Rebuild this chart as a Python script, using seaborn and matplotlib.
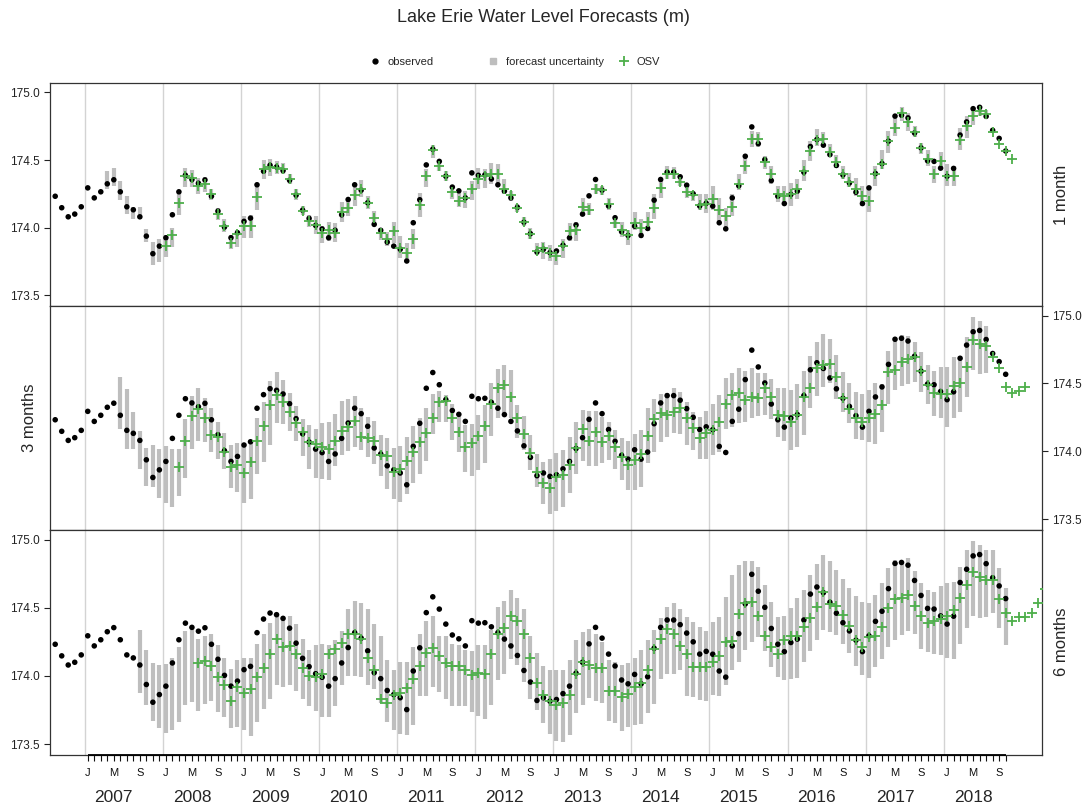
import numpy as np
import matplotlib
matplotlib.use("Agg")
import matplotlib.pyplot as plt
import seaborn as sns
from matplotlib.lines import Line2D

# month index: 0 = Jan 2007
obs_start = -5  # Aug 2006
observed = [
    174.232, 174.147, 174.080, 174.100, 174.154,
    174.294, 174.220, 174.265, 174.324, 174.354, 174.265, 174.154, 174.132, 174.080, 173.937, 173.807, 173.863,
    173.925, 174.095, 174.265, 174.387, 174.356, 174.328, 174.353, 174.232, 174.122, 174.004, 173.925, 173.962,
    174.046, 174.070, 174.317, 174.417, 174.461, 174.449, 174.422, 174.350, 174.240, 174.129, 174.068, 174.016,
    173.990, 173.925, 173.980, 174.095, 174.208, 174.317, 174.277, 174.184, 174.024, 173.980, 173.893, 173.863,
    173.840, 173.753, 174.036, 174.206, 174.464, 174.580, 174.490, 174.380, 174.300, 174.272, 174.220, 174.405,
    174.387, 174.390, 174.360, 174.317, 174.270, 174.220, 174.150, 174.040, 173.955, 173.820, 173.840, 173.815,
    173.827, 173.870, 173.925, 174.020, 174.100, 174.235, 174.356, 174.277, 174.160, 174.073, 173.970, 173.942,
    174.011, 173.942, 173.994, 174.203, 174.356, 174.410, 174.410, 174.376, 174.314, 174.250, 174.160, 174.180,
    174.159, 174.036, 173.991, 174.220, 174.310, 174.528, 174.745, 174.621, 174.503, 174.348, 174.232, 174.178,
    174.245, 174.270, 174.410, 174.600, 174.652, 174.610, 174.540, 174.460, 174.390, 174.330, 174.262, 174.178,
    174.294, 174.400, 174.474, 174.640, 174.825, 174.832, 174.812, 174.700, 174.590, 174.495, 174.490, 174.440,
    174.380, 174.438, 174.685, 174.782, 174.880, 174.890, 174.823, 174.720, 174.660, 174.567,
]

# 1 month lead
osv_1m_start = 12
osv_1m = [
    173.863, 173.942, 174.184, 174.380, 174.365, 174.306, 174.324, 174.250, 174.100, 174.011, 173.889, 173.950,
    174.011, 174.011, 174.225, 174.437, 174.445, 174.440, 174.430, 174.363, 174.245, 174.122, 174.048, 174.016,
    173.962, 173.980, 173.957, 174.117, 174.147, 174.238, 174.289, 174.184, 174.068, 173.957, 173.918, 173.974,
    173.847, 173.810, 173.913, 174.164, 174.380, 174.577, 174.459, 174.380, 174.262, 174.200, 174.220, 174.289,
    174.363, 174.380, 174.400, 174.400, 174.287, 174.238, 174.147, 174.040, 173.955, 173.830, 173.847, 173.815,
    173.790, 173.863, 173.974, 173.980, 174.154, 174.134, 174.282, 174.277, 174.176, 174.031, 173.980, 173.942,
    174.031, 173.999, 174.040, 174.147, 174.292, 174.400, 174.400, 174.341, 174.265, 174.238, 174.169, 174.176,
    174.213, 174.134, 174.085, 174.154, 174.319, 174.454, 174.659, 174.659, 174.486, 174.393, 174.245, 174.237,
    174.245, 174.282, 174.417, 174.565, 174.651, 174.656, 174.557, 174.483, 174.400, 174.336, 174.282, 174.232,
    174.196, 174.400, 174.474, 174.639, 174.737, 174.848, 174.779, 174.705, 174.590, 174.510, 174.393, 174.491,
    174.380, 174.380, 174.651, 174.754, 174.828, 174.865, 174.843, 174.705, 174.621, 174.565, 174.511,
]
band_1m_start = 3
band_1m_lo = [
    174.282, 174.307, 174.208, 174.098, 174.061, 174.061, 173.893, 173.723, 173.746,
    173.782, 173.857, 174.095, 174.302, 174.302, 174.245, 174.262, 174.208, 174.053, 173.967, 173.839, 173.859,
    173.925, 173.925, 174.134, 174.360, 174.380, 174.400, 174.393, 174.326, 174.208, 174.090, 174.006, 173.950,
    173.883, 173.900, 173.893, 174.041, 174.085, 174.159, 174.228, 174.139, 174.023, 173.908, 173.864, 173.889,
    173.778, 173.741, 173.840, 174.080, 174.301, 174.516, 174.417, 174.343, 174.213, 174.154, 174.147, 174.203,
    174.282, 174.294, 174.319, 174.326, 174.252, 174.196, 174.114, 174.011, 173.918, 173.795, 173.765, 173.753,
    173.721, 173.778, 173.901, 173.901, 174.085, 174.090, 174.245, 174.238, 174.130, 173.999, 173.932, 173.868,
    173.986, 173.925, 173.974, 174.065, 174.221, 174.360, 174.360, 174.306, 174.221, 174.196, 174.130, 174.105,
    174.134, 174.048, 173.999, 174.085, 174.275, 174.393, 174.597, 174.597, 174.430, 174.326, 174.188, 174.164,
    174.159, 174.213, 174.343, 174.491, 174.607, 174.602, 174.528, 174.442, 174.356, 174.302, 174.233, 174.159,
    174.114, 174.311, 174.430, 174.553, 174.680, 174.786, 174.712, 174.671, 174.548, 174.459, 174.331, 174.430,
    174.307, 174.307, 174.577, 174.663, 174.762, 174.823, 174.818,
]
band_1m_hi = [
    174.422, 174.442, 174.344, 174.233, 174.152, 174.152, 173.992, 173.893, 173.913,
    173.942, 173.999, 174.262, 174.442, 174.425, 174.368, 174.376, 174.287, 174.142, 174.061, 173.942, 173.982,
    174.085, 174.090, 174.307, 174.503, 174.510, 174.491, 174.479, 174.393, 174.282, 174.159, 174.090, 174.085,
    174.011, 174.041, 174.036, 174.188, 174.213, 174.311, 174.351, 174.233, 174.122, 173.999, 173.967, 174.041,
    173.937, 173.883, 173.992, 174.253, 174.435, 174.614, 174.503, 174.417, 174.311, 174.257, 174.270, 174.343,
    174.442, 174.435, 174.479, 174.467, 174.361, 174.270, 174.178, 174.080, 173.999, 173.889, 173.893, 173.869,
    173.839, 173.918, 174.036, 174.041, 174.221, 174.184, 174.319, 174.311, 174.221, 174.085, 174.041, 173.986,
    174.115, 174.061, 174.115, 174.245, 174.356, 174.459, 174.449, 174.380, 174.311, 174.270, 174.245, 174.245,
    174.307, 174.220, 174.147, 174.245, 174.400, 174.545, 174.712, 174.705, 174.533, 174.459, 174.311, 174.307,
    174.331, 174.360, 174.503, 174.638, 174.730, 174.705, 174.621, 174.540, 174.454, 174.405, 174.368, 174.311,
    174.311, 174.459, 174.572, 174.712, 174.835, 174.892, 174.848, 174.749, 174.626, 174.572, 174.459, 174.557,
    174.474, 174.459, 174.737, 174.823, 174.885, 174.897, 174.872,
]

# 3 month lead
osv_3m_start = 14
osv_3m = [
    173.886, 174.077, 174.260, 174.314, 174.248, 174.120, 174.105, 173.994, 173.886, 173.898,
    173.842, 173.923, 174.077, 174.188, 174.340, 174.415, 174.365, 174.287, 174.206, 174.140, 174.070, 174.056,
    174.034, 174.017, 174.075, 174.149, 174.178, 174.225, 174.105, 174.100, 174.075, 173.972, 173.967, 173.849,
    173.868, 173.927, 173.991, 174.070, 174.137, 174.247, 174.360, 174.373, 174.247, 174.144, 174.028, 174.058,
    174.115, 174.188, 174.348, 174.464, 174.488, 174.397, 174.247, 174.127, 173.989, 173.849, 173.768, 173.731,
    173.812, 173.824, 173.898, 174.021, 174.164, 174.077, 174.144, 174.070, 174.115, 174.028, 173.960, 173.902,
    173.935, 173.977, 174.115, 174.238, 174.279, 174.267, 174.291, 174.321, 174.247, 174.169, 174.095, 174.137,
    174.157, 174.218, 174.346, 174.415, 174.427, 174.378, 174.402, 174.390, 174.469, 174.397, 174.267, 174.260,
    174.218, 174.267, 174.402, 174.469, 174.611, 174.636, 174.643, 174.550, 174.395, 174.309, 174.242, 174.218,
    174.242, 174.272, 174.341, 174.587, 174.599, 174.656, 174.678, 174.698, 174.592, 174.488, 174.427, 174.419,
    174.419, 174.483, 174.501, 174.624, 174.821, 174.789, 174.779, 174.698, 174.616, 174.476, 174.427, 174.444,
    174.476,
]
band_3m_start = 5
band_3m_lo = [
    174.164, 174.017, 174.017, 173.873, 173.746, 173.739, 173.657,
    173.620, 173.590, 173.668, 173.800, 174.017, 174.077, 174.070, 173.996, 173.942, 173.868, 173.726, 173.700,
    173.620, 173.650, 173.830, 173.923, 174.046, 174.210, 174.203, 174.149, 174.075, 173.967, 173.868, 173.800,
    173.795, 173.790, 173.891, 173.972, 174.004, 174.028, 174.009, 173.960, 173.908, 173.820, 173.721, 173.652,
    173.623, 173.682, 173.763, 173.836, 173.930, 174.130, 174.213, 174.218, 174.082, 173.996, 173.849, 173.820,
    173.861, 173.910, 174.113, 174.247, 174.267, 174.243, 174.095, 174.009, 173.861, 173.739, 173.615, 173.537,
    173.559, 173.590, 173.689, 173.829, 173.930, 173.891, 173.893, 173.910, 173.935, 173.873, 173.787, 173.714,
    173.714, 173.739, 173.910, 173.991, 174.070, 174.107, 174.132, 174.124, 174.046, 174.009, 173.942, 173.942,
    173.972, 173.991, 174.164, 174.181, 174.206, 174.218, 174.243, 174.262, 174.267, 174.235, 174.107, 174.075,
    174.009, 174.034, 174.120, 174.321, 174.410, 174.476, 174.501, 174.383, 174.292, 174.206, 174.090, 174.082,
    174.070, 174.051, 174.140, 174.348, 174.452, 174.484, 174.496, 174.513, 174.434, 174.348, 174.262, 174.243,
    174.181, 174.243, 174.292, 174.402, 174.599, 174.567, 174.574,
]
band_3m_hi = [
    174.550, 174.457, 174.288, 174.150, 174.026, 174.046, 174.017,
    174.040, 174.017, 174.017, 174.235, 174.407, 174.464, 174.390, 174.316, 174.218, 174.137, 174.046, 174.058,
    174.058, 174.070, 174.243, 174.366, 174.521, 174.582, 174.525, 174.427, 174.336, 174.237, 174.193, 174.164,
    174.206, 174.213, 174.275, 174.373, 174.383, 174.410, 174.316, 174.255, 174.223, 174.120, 174.100, 174.021,
    174.038, 174.107, 174.188, 174.247, 174.320, 174.419, 174.444, 174.414, 174.348, 174.280, 174.193, 174.200,
    174.267, 174.340, 174.500, 174.604, 174.636, 174.600, 174.340, 174.260, 174.120, 173.977, 173.923, 173.940,
    173.984, 174.009, 174.107, 174.213, 174.304, 174.297, 174.297, 174.255, 174.213, 174.157, 174.095, 174.075,
    174.125, 174.157, 174.316, 174.385, 174.419, 174.432, 174.464, 174.434, 174.365, 174.292, 174.255, 174.297,
    174.346, 174.414, 174.537, 174.575, 174.616, 174.592, 174.616, 174.575, 174.575, 174.533, 174.469, 174.464,
    174.452, 174.496, 174.592, 174.705, 174.803, 174.862, 174.828, 174.710, 174.587, 174.500, 174.434, 174.419,
    174.452, 174.500, 174.493, 174.739, 174.833, 174.857, 174.852, 174.803, 174.734, 174.636, 174.592, 174.624,
    174.624, 174.698, 174.705, 174.838, 174.986, 174.956, 174.926,
]

# 6 month lead
osv_6m_start = 17
osv_6m = [
    174.095, 174.107, 174.073, 173.991, 173.935, 173.819, 173.918,
    173.873, 173.905, 173.991, 174.058, 174.159, 174.269, 174.213, 174.220, 174.159, 174.058, 173.999, 173.991,
    174.011, 174.159, 174.200, 174.242, 174.311, 174.306, 174.269, 174.132, 174.041, 173.831, 173.802, 173.861,
    173.873, 173.910, 173.979, 174.070, 174.171, 174.208, 174.146, 174.095, 174.073, 174.073, 174.046, 174.004,
    174.021, 174.016, 174.159, 174.306, 174.348, 174.442, 174.405, 174.304, 174.132, 173.950, 173.858, 173.819,
    173.785, 173.802, 173.863, 174.016, 174.102, 174.077, 174.058, 174.058, 173.893, 173.893, 173.844, 173.868,
    173.918, 173.947, 174.041, 174.200, 174.274, 174.341, 174.306, 174.218, 174.159, 174.065, 174.065, 174.065,
    174.102, 174.144, 174.250, 174.257, 174.454, 174.533, 174.545, 174.439, 174.291, 174.213, 174.164, 174.262,
    174.291, 174.291, 174.360, 174.422, 174.503, 174.614, 174.528, 174.513, 174.446, 174.365, 174.267, 174.213,
    174.287, 174.291, 174.360, 174.496, 174.562, 174.569, 174.594, 174.513, 174.439, 174.385, 174.405, 174.414,
    174.439, 174.483, 174.574, 174.668, 174.759, 174.724, 174.700, 174.700, 174.562, 174.464, 174.405, 174.434,
    174.434, 174.464, 174.538, 174.636,
]
band_6m_start = 8
band_6m_lo = [
    173.873, 173.787, 173.672, 173.617,
    173.585, 173.603, 173.659, 173.787, 173.812, 173.745, 173.795, 173.814, 173.733, 173.696, 173.617, 173.627,
    173.605, 173.556, 173.664, 173.758, 173.831, 173.930, 173.918, 173.937, 173.893, 173.831, 173.782, 173.745,
    173.696, 173.701, 173.777, 173.930, 173.996, 173.996, 173.991, 173.930, 173.905, 173.802, 173.664, 173.603,
    173.573, 173.568, 173.642, 173.856, 173.856, 173.918, 173.881, 173.831, 173.782, 173.777, 173.777, 173.733,
    173.704, 173.684, 173.787, 173.967, 174.016, 174.127, 174.077, 173.959, 173.831, 173.753, 173.654, 173.573,
    173.524, 173.517, 173.566, 173.726, 173.790, 173.839, 173.814, 173.800, 173.672, 173.652, 173.593, 173.627,
    173.642, 173.647, 173.726, 173.795, 173.979, 174.016, 174.016, 174.041, 173.856, 173.844, 173.824, 173.819,
    173.861, 173.856, 173.930, 174.045, 174.102, 174.188, 174.250, 174.282, 174.183, 174.065, 173.991, 173.967,
    173.979, 173.986, 174.102, 174.183, 174.262, 174.336, 174.323, 174.299, 174.237, 174.168, 174.070, 174.004,
    173.986, 174.065, 174.127, 174.213, 174.267, 174.299, 174.331, 174.311, 174.200, 174.174, 174.159, 174.151,
    174.134, 174.127, 174.237, 174.355, 174.439, 174.422, 174.429, 174.459, 174.348, 174.225,
]
band_6m_hi = [
    174.336, 174.193, 174.095, 174.077,
    174.085, 174.132, 174.213, 174.331, 174.360, 174.274, 174.291, 174.304, 174.225, 174.132, 174.053, 174.114,
    174.132, 174.134, 174.233, 174.311, 174.390, 174.439, 174.434, 174.442, 174.380, 174.274, 174.193, 174.225,
    174.233, 174.225, 174.262, 174.331, 174.491, 174.550, 174.538, 174.488, 174.380, 174.291, 174.114, 174.041,
    174.102, 174.102, 174.213, 174.311, 174.405, 174.439, 174.291, 174.291, 174.237, 174.225, 174.193, 174.183,
    174.225, 174.225, 174.336, 174.503, 174.552, 174.631, 174.569, 174.491, 174.291, 174.171, 174.070, 174.041,
    174.041, 174.041, 174.114, 174.262, 174.323, 174.343, 174.306, 174.250, 174.114, 174.102, 174.077, 174.095,
    174.134, 174.188, 174.262, 174.336, 174.422, 174.508, 174.538, 174.488, 174.429, 174.397, 174.360, 174.331,
    174.397, 174.434, 174.582, 174.742, 174.815, 174.840, 174.840, 174.796, 174.668, 174.545, 174.429, 174.439,
    174.496, 174.569, 174.631, 174.742, 174.823, 174.889, 174.840, 174.774, 174.710, 174.643, 174.587, 174.545,
    174.533, 174.594, 174.680, 174.791, 174.852, 174.840, 174.865, 174.766, 174.680, 174.631, 174.619, 174.661,
    174.680, 174.692, 174.798, 174.921, 174.988, 174.963, 174.921, 174.921, 174.791, 174.643,
]

years = list(range(2007, 2019))
month_letters = {0: "J", 4: "M", 8: "S"}
last_tick = 141  # Oct 2018

GREEN = "#4daf4a"
GREY_BAR = "#bebebe"
GRID = "#d3d3d3"

sns.set_style("ticks")
plt.rcParams["font.family"] = ["Liberation Sans", "DejaVu Sans"]

fig = plt.figure(figsize=(10.87, 8.09), dpi=100)
W, H = 1087.0, 809.0
left, right = 50 / W, 1042 / W
panel_px = [(83, 306), (306, 530), (530, 755)]
axes = []
for top, bot in panel_px:
    axes.append(fig.add_axes([left, 1 - bot / H, right - left, (bot - top) / H]))

panels = [
    (osv_1m_start, osv_1m, band_1m_start, band_1m_lo, band_1m_hi),
    (osv_3m_start, osv_3m, band_3m_start, band_3m_lo, band_3m_hi),
    (osv_6m_start, osv_6m, band_6m_start, band_6m_lo, band_6m_hi),
]

obs_x = np.arange(obs_start, obs_start + len(observed))

for i, (ax, (o_start, osv, b_start, b_lo, b_hi)) in enumerate(zip(axes, panels)):
    for k in range(len(years)):
        ax.axvline(12 * k - 0.5, color=GRID, lw=1.0, zorder=0)
    bx = np.arange(b_start, b_start + len(b_lo))
    ax.vlines(bx, b_lo, b_hi, color=GREY_BAR, lw=3.0, zorder=1, capstyle="butt")
    sns.scatterplot(x=obs_x, y=observed, color="black", s=16, edgecolor="none",
                    ax=ax, zorder=2, legend=False)
    ox = np.arange(o_start, o_start + len(osv))
    sns.scatterplot(x=ox, y=osv, marker="+", color=GREEN, s=45, linewidth=1.3,
                    ax=ax, zorder=3, legend=False)

    ax.set_xlim(-5.8, 146.58)
    ax.set_ylim(173.42, 175.07)
    ax.set_xlabel("")
    ax.set_ylabel("")
    yt = [173.5, 174.0, 174.5, 175.0]
    ax.set_yticks(yt)
    ax.set_yticklabels([f"{v:.1f}" for v in yt])
    for sp in ax.spines.values():
        sp.set_visible(True)
        sp.set_color("#333333")
        sp.set_linewidth(0.9)
    if i == 1:
        ax.tick_params(axis="y", left=False, right=True, labelleft=False, labelright=True)
    else:
        ax.tick_params(axis="y", left=True, right=False, labelleft=True, labelright=False)
    ax.tick_params(axis="y", direction="out", length=4.5, width=0.8, labelsize=8.5, pad=3,
                   colors="#222222")

    if i < 2:
        ax.tick_params(axis="x", bottom=False, top=False, labelbottom=False)
    else:
        ticks = list(range(0, last_tick + 1))
        ax.set_xticks(ticks)
        ax.set_xticklabels([month_letters.get(t % 12, "") for t in ticks])
        ax.tick_params(axis="x", bottom=True, top=False, direction="out", length=4, width=0.8,
                       labelsize=8, pad=5, colors="#111111")
        ax.plot([0, last_tick], [173.42, 173.42], color="black", lw=1.3,
                clip_on=False, zorder=5, solid_capstyle="butt")
        for k, yr in enumerate(years):
            ax.annotate(str(yr), xy=(12 * k + 4, 0), xycoords=("data", "axes fraction"),
                        xytext=(0, -30.5), textcoords="offset points",
                        ha="center", va="center", fontsize=12.5)

fig.text(1062 / W, 1 - 195 / H, "1 month", rotation=90, ha="center", va="center", fontsize=12)
fig.text(30 / W, 1 - 418 / H, "3 months", rotation=90, ha="center", va="center", fontsize=12)
fig.text(1062 / W, 1 - 642 / H, "6 months", rotation=90, ha="center", va="center", fontsize=12)

fig.text(0.5, 1 - 18 / H, "Lake Erie Water Level Forecasts (m)", ha="center", va="center",
         fontsize=13)

legend_items = [
    (369, Line2D([], [], ls="none", marker="o", color="black", markersize=3.5), "observed"),
    (487, Line2D([], [], ls="none", marker="s", color=GREY_BAR, markersize=5), "forecast uncertainty"),
    (618, Line2D([], [], ls="none", marker="+", color=GREEN, markersize=7, markeredgewidth=1.3), "OSV"),
]
for xpx, handle, label in legend_items:
    fig.legend([handle], [label], loc="center left", bbox_to_anchor=(xpx / W, 1 - 62 / H),
               frameon=False, fontsize=8, handlelength=1.0, handletextpad=0.7,
               borderpad=0, borderaxespad=0)

fig.savefig("out.png", dpi=100)
